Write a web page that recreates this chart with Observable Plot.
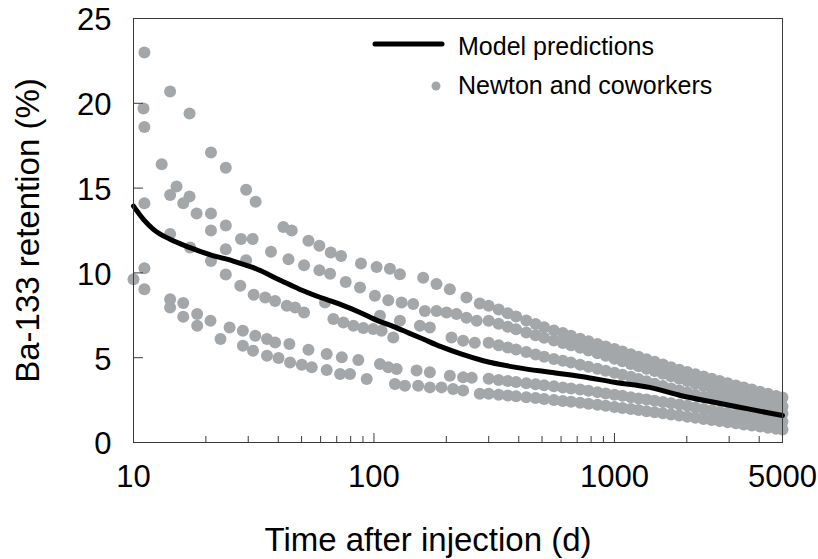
<!DOCTYPE html>
<html>
<head>
<meta charset="utf-8">
<script src="https://cdn.jsdelivr.net/npm/d3@7"></script>
<script src="https://cdn.jsdelivr.net/npm/@observablehq/plot@0.6"></script>
<style>
  html, body { margin: 0; padding: 0; background: #fff; }
  #chart { width: 818px; height: 559px; }
</style>
</head>
<body>
<div id="chart"></div>
<script>
// ---- Model predictions (black curve) ----
const modelDays = [10, 11, 12.1, 14.2, 17.2, 20.9, 26, 31.5, 41, 49, 60, 72, 87.5, 103, 120, 140, 160, 190, 230, 285, 390, 540, 740, 1000, 1400, 1900, 2600, 3600, 5000];
const modelRetention = [13.94, 13.16, 12.57, 11.98, 11.49, 11.06, 10.7, 10.31, 9.55, 9.04, 8.55, 8.16, 7.67, 7.2, 6.85, 6.45, 6.1, 5.65, 5.22, 4.82, 4.43, 4.14, 3.88, 3.55, 3.25, 2.76, 2.37, 1.98, 1.59];

// ---- Newton and coworkers: early (separate) measurements ----
const earlyDays = [11.1, 11.0, 11.1, 14.2, 17.1, 13.1, 21.0, 24.2, 11.1, 15.1, 14.2, 17.1, 16.1, 18.3, 21.0, 29.4, 32.2, 21.0, 24.2, 14.2,
  17.2, 24.2, 28.0, 31.3, 37.3, 21.0, 24.2, 29.4, 42.0, 45.5, 53.4, 59.3, 66.1, 73.0, 44.1, 51.2, 59.3, 65.7, 88.3, 102.6,
  116.5, 76.3, 10.0, 11.1, 11.1, 14.2, 14.2, 16.1, 16.1, 18.4, 18.4, 20.9, 23.0, 25.1, 28.5, 28.5, 32.1, 31.4, 35.9, 35.9,
  38.8, 40.1, 44.5, 44.8, 50.1, 53.4, 55.1, 63.6, 63.6, 72.3, 73.5, 79.5, 86.1, 93.3, 105.9, 114.7, 124.3, 122.2, 134.5, 27.8,
  31.6, 35.3, 38.8, 43.4, 47.0, 51.2, 62.6, 128.2, 160.2, 182.0, 206.8, 242.5, 87.5, 100.9, 114.7, 130.3, 145.6, 162.8, 182.0, 200.3,
  220.4, 242.5, 67.8, 74.6, 82.1, 90.3, 99.3, 107.6, 105.9, 128.2, 155.2, 170.8, 120.3, 210.1, 234.8, 150.4, 170.8, 206.8, 234.8, 152.7,
  170.8, 190.9, 213.3, 234.8, 275.4, 267.6, 262.5, 255.1, 275.4];
const earlyRetention = [23.0, 19.7, 18.6, 20.7, 19.4, 16.4, 17.1, 16.2, 14.1, 15.1, 14.6, 14.5, 14.1, 13.5, 13.5, 14.9, 14.2, 12.5, 12.8, 12.3,
  11.5, 11.4, 12.0, 12.0, 11.25, 10.7, 9.9, 10.75, 12.7, 12.5, 11.9, 11.6, 11.2, 11.0, 10.8, 10.45, 10.15, 9.95, 10.55, 10.35,
  10.25, 9.47, 9.63, 9.04, 10.28, 8.45, 7.96, 8.22, 7.41, 7.57, 6.88, 7.18, 6.1, 6.78, 6.59, 5.71, 6.29, 5.41, 6.1, 5.12,
  5.9, 4.98, 5.81, 4.72, 4.59, 5.47, 4.43, 5.22, 4.28, 4.04, 5.02, 4.04, 4.86, 3.75, 4.63, 4.43, 4.34, 3.45, 3.35, 9.24,
  8.71, 8.55, 8.35, 8.06, 7.96, 7.66, 8.25, 9.92, 9.72, 9.34, 9.04, 8.55, 9.14, 8.65, 8.39, 8.25, 8.16, 7.76, 7.76, 7.66,
  7.57, 7.35, 7.28, 7.08, 6.88, 6.75, 6.69, 6.59, 7.47, 7.18, 6.88, 6.78, 6.19, 6.19, 6.0, 4.24, 4.14, 3.94, 3.84, 3.35,
  3.25, 3.25, 3.16, 3.06, 8.19, 7.18, 5.88, 3.82, 2.88];

// ---- Newton and coworkers: later, closely spaced measurements (five subjects) ----
const denseDays = [300, 330, 360, 390, 430, 470, 510, 560, 610, 660, 720, 780, 850, 920, 1000, 1080, 1170, 1260, 1360, 1470, 1590, 1720, 1860, 2010, 2170, 2350, 2540, 2740, 2960, 3200, 3450, 3730, 4030, 4350, 4700, 5000];
const subjectA = [8.06, 7.84, 7.62, 7.43, 7.2, 6.99, 6.8, 6.61, 6.45, 6.29, 6.12, 5.97, 5.81, 5.66, 5.51, 5.37, 5.21, 5.06, 4.91, 4.76, 4.6, 4.44, 4.29, 4.16, 4.03, 3.89, 3.76, 3.63, 3.49, 3.36, 3.24, 3.12, 2.99, 2.87, 2.74, 2.65];
const subjectB = [7.18, 7.0, 6.83, 6.68, 6.49, 6.32, 6.17, 6.01, 5.87, 5.73, 5.59, 5.43, 5.26, 5.11, 4.94, 4.79, 4.63, 4.49, 4.35, 4.21, 4.05, 3.9, 3.76, 3.62, 3.48, 3.33, 3.19, 3.05, 2.91, 2.78, 2.67, 2.55, 2.44, 2.33, 2.2, 2.12];
const subjectC = [5.88, 5.74, 5.6, 5.48, 5.33, 5.19, 5.06, 4.93, 4.82, 4.71, 4.59, 4.47, 4.35, 4.23, 4.11, 4.0, 3.87, 3.74, 3.61, 3.47, 3.33, 3.19, 3.06, 2.95, 2.82, 2.7, 2.59, 2.48, 2.37, 2.27, 2.17, 2.07, 1.98, 1.88, 1.78, 1.71];
const subjectD = [3.76, 3.69, 3.63, 3.57, 3.5, 3.44, 3.38, 3.31, 3.24, 3.18, 3.12, 3.05, 2.97, 2.89, 2.82, 2.75, 2.67, 2.6, 2.53, 2.46, 2.39, 2.31, 2.24, 2.16, 2.07, 1.98, 1.9, 1.81, 1.72, 1.65, 1.58, 1.51, 1.44, 1.37, 1.29, 1.24];
const subjectE = [2.88, 2.82, 2.77, 2.73, 2.67, 2.62, 2.56, 2.51, 2.45, 2.4, 2.35, 2.29, 2.22, 2.16, 2.09, 2.03, 1.97, 1.91, 1.84, 1.78, 1.72, 1.65, 1.59, 1.52, 1.46, 1.39, 1.32, 1.26, 1.2, 1.13, 1.06, 1.0, 0.94, 0.87, 0.81, 0.76];

// ---- Axis ticks ----
const xTickLabels = [10, 100, 1000, 5000];
const xMajorTicks = [100, 1000];
const xMinorTicks = [20, 30, 40, 50, 60, 70, 80, 90, 200, 300, 400, 500, 600, 700, 800, 900, 2000, 3000, 4000];
const yTickLabels = [0, 5, 10, 15, 20, 25];
const yInnerTicks = [5, 10, 15, 20];

const xTitle = "Time after injection (d)";
const yTitle = "Ba-133 retention (%)";
const legendLabels = ["Model predictions", "Newton and coworkers"];

// ---- Build tables ----
const model = modelDays.map((d, i) => ({day: d, ret: modelRetention[i]}));
const observed = earlyDays.map((d, i) => ({day: d, ret: earlyRetention[i]}));
[subjectA, subjectB, subjectC, subjectD, subjectE].forEach(s =>
  s.forEach((v, i) => observed.push({day: denseDays[i], ret: v})));

const FONT = "'Liberation Sans', Arial, Helvetica, sans-serif";
const dotColor = "#a3a7a9";
const frameColor = "#3a3a3a";

const W = 818, H = 559;
const mL = 133, mR = 36, mT = 18, mB = 117;
const innerW = W - mL - mR, innerH = H - mT - mB;

const chart = Plot.plot({
  width: W,
  height: H,
  marginLeft: mL,
  marginRight: mR,
  marginTop: mT,
  marginBottom: mB,
  style: {fontFamily: FONT, fontSize: "31px", color: "#000", background: "#fff", overflow: "visible"},
  x: {type: "log", domain: [10, 5000], axis: null},
  y: {domain: [0, 25], axis: null},
  marks: [
    Plot.dot(observed, {x: "day", y: "ret", r: 6, fill: dotColor, stroke: "none"}),
    Plot.line(model, {x: "day", y: "ret", stroke: "#000", strokeWidth: 5, curve: "monotone-x"}),
    Plot.frame({stroke: frameColor, strokeWidth: 1}),
    Plot.tickX(xMinorTicks, {x: d => d, stroke: frameColor, insetTop: innerH - 6}),
    Plot.tickX(xMajorTicks, {x: d => d, stroke: frameColor, insetTop: innerH - 9}),
    Plot.tickY(yInnerTicks, {y: d => d, stroke: frameColor, insetRight: innerW - 10}),
    Plot.text(xTickLabels, {x: d => d, text: d => String(d), frameAnchor: "bottom", lineAnchor: "top", dy: 22, fontSize: 31, fill: "#000"}),
    Plot.text(yTickLabels, {y: d => d, text: d => String(d), frameAnchor: "left", textAnchor: "end", lineAnchor: "middle", dx: -22, dy: 2, fontSize: 31, fill: "#000"}),
    Plot.text([xTitle], {frameAnchor: "bottom", dx: -30, dy: 98, fontSize: 33, fill: "#000", lineAnchor: "middle", textAnchor: "middle"}),
    Plot.text([yTitle], {frameAnchor: "left", dx: -105, rotate: -90, fontSize: 33, fill: "#000", lineAnchor: "middle", textAnchor: "middle"})
  ]
});

document.getElementById("chart").appendChild(chart);

// ---- Legend inside the plot (top right) ----
const svg = d3.select(chart);
const lg = svg.append("g").attr("font-family", FONT).attr("font-size", 25).attr("text-anchor", "start");
lg.append("line").attr("x1", 375).attr("x2", 442).attr("y1", 44).attr("y2", 44)
  .attr("stroke", "#000").attr("stroke-width", 5).attr("stroke-linecap", "round");
lg.append("circle").attr("cx", 436).attr("cy", 86).attr("r", 4.5).attr("fill", dotColor);
lg.selectAll("text").data(legendLabels).join("text")
  .attr("x", 458).attr("y", (d, i) => i === 0 ? 46 : 85)
  .attr("dy", "0.35em").attr("fill", "#000").attr("text-anchor", "start").text(d => d);
</script>
</body>
</html>
